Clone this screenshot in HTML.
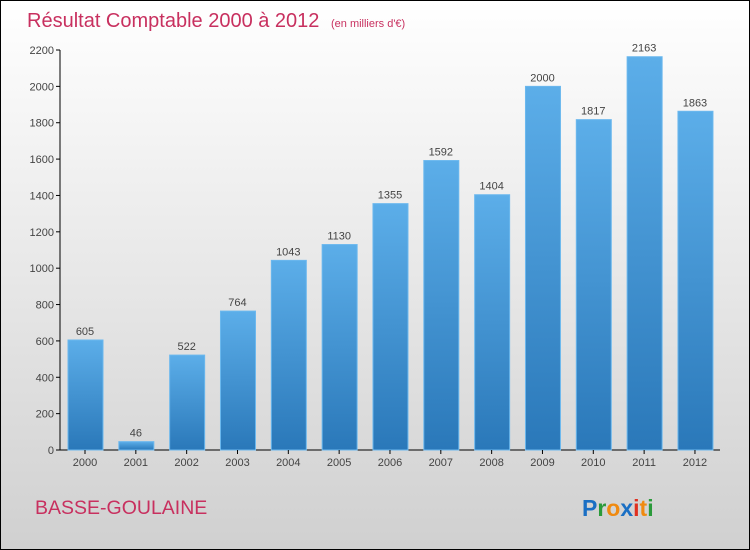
<!DOCTYPE html>
<html><head><meta charset="utf-8"><style>
body{margin:0}
#c{width:750px;height:550px;position:relative;box-sizing:border-box;border:1px solid #000;background:linear-gradient(#ffffff,#d0d0d0);font-family:"Liberation Sans",sans-serif;overflow:hidden}
</style></head><body>
<div id="c">
<svg id="s" width="750" height="550" style="position:absolute;left:-1px;top:-1px">
<defs><linearGradient id="g" x1="0" y1="0" x2="0" y2="1"><stop offset="0" stop-color="#5caee9"/><stop offset="1" stop-color="#2a78b9"/></linearGradient></defs>
<text x="27" y="27" font-size="20" fill="#c8305f">Résultat Comptable 2000 à 2012 <tspan font-size="11" dx="6">(en milliers d'€)</tspan></text>
<text x="35" y="514" font-size="19.5" fill="#c8305f">BASSE-GOULAINE</text>
<text x="582" y="516" font-size="23" font-weight="bold"><tspan fill="#1a6fc4">P</tspan><tspan fill="#2a9a3a">r</tspan><tspan fill="#f08a10">o</tspan><tspan fill="#1a6fc4">x</tspan><tspan fill="#e03020">i</tspan><tspan fill="#f08a10">t</tspan><tspan fill="#2a9a3a">i</tspan></text>
</svg></div>
<script>
const categories=["2000","2001","2002","2003","2004","2005","2006","2007","2008","2009","2010","2011","2012"];
const values=[605,46,522,764,1043,1130,1355,1592,1404,2000,1817,2163,1863];
const yTicks=[0,200,400,600,800,1000,1200,1400,1600,1800,2000,2200];
const s=document.getElementById('s');const NS="http://www.w3.org/2000/svg";
const y=v=>450-v*400/2200;const x=i=>85+i*50.83;
function mk(t,a){const e=document.createElementNS(NS,t);for(const k in a)e.setAttribute(k,a[k]);s.appendChild(e);return e;}
let ax=mk('line',{x1:60,y1:50,x2:60,y2:450,stroke:'#000'});


let bx=mk('line',{x1:60,y1:450,x2:720,y2:450,stroke:'#000'});


yTicks.forEach(v=>{mk('line',{x1:56,x2:60,y1:y(v),y2:y(v),stroke:'#000'});
const t=mk('text',{x:54,y:y(v)+4,'font-size':11,fill:'#444','text-anchor':'end'});t.textContent=v;

});
categories.forEach((c,i)=>{const v=values[i];
const r=mk('rect',{x:x(i)-17,y:y(v),width:35,height:450-y(v),fill:'url(#g)',stroke:'#6bb8ee','stroke-width':1});


const l=mk('text',{x:x(i),y:y(v)-5,'font-size':11,fill:'#444','text-anchor':'middle'});l.textContent=v;


mk('line',{x1:x(i),x2:x(i),y1:450,y2:454,stroke:'#000'});
const t=mk('text',{x:x(i),y:466,'font-size':11,fill:'#444','text-anchor':'middle'});t.textContent=c;

});
</script></body></html>
